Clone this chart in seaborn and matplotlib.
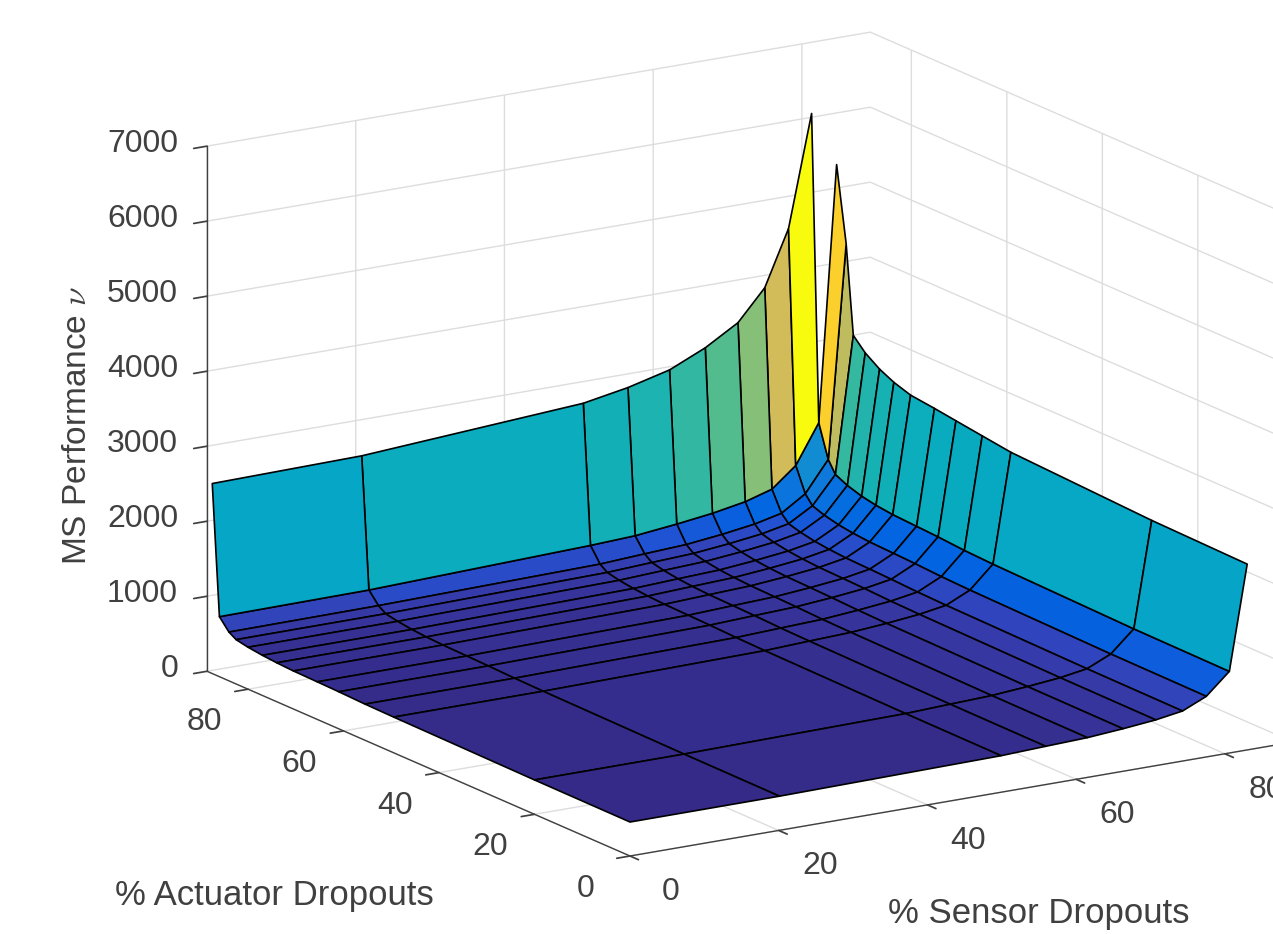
import numpy as np
import seaborn as sns
import matplotlib.pyplot as plt
from mpl_toolkits.mplot3d import proj3d

sensor = [0, 20.1, 49.9, 55.9, 61.5, 66.3, 70.7, 74.3, 77.5, 80.6, 83]
actuator = [0, 20, 49.5, 55.5, 61, 65.5, 70.5, 74, 77, 80, 82.5, 84, 86, 87.5]
ticks_xy = [0, 20, 40, 60, 80]
ticks_z = [0, 1000, 2000, 3000, 4000, 5000, 6000, 7000]

# one row per actuator value, one column per sensor value
perf = [
    [453, 455, 487, 510, 530, 567, 610, 667, 808, 1088, 2477],
    [458, 460, 492, 515, 535, 573, 616, 674, 816, 1099, 2504],
    [476, 478, 511, 536, 557, 595, 641, 700, 848, 1142, 2592],
    [482, 485, 519, 543, 564, 604, 650, 710, 861, 1159, 2644],
    [494, 496, 531, 556, 578, 618, 665, 727, 881, 1186, 2692],
    [501, 503, 538, 564, 586, 627, 674, 737, 893, 1202, 2732],
    [507, 510, 545, 571, 594, 635, 683, 747, 905, 1219, 2770],
    [519, 521, 558, 584, 607, 649, 698, 764, 925, 1246, 2843],
    [535, 537, 575, 602, 625, 669, 720, 787, 953, 1284, 2936],
    [559, 562, 601, 630, 655, 700, 753, 824, 998, 1344, 3069],
    [591, 594, 636, 666, 692, 740, 796, 870, 1054, 1420, 3233],
    [650, 660, 706, 740, 769, 822, 885, 967, 1172, 1578, 4413],
    [800, 813, 900, 927, 987, 1049, 1128, 1234, 1495, 2013, 5413],
    [2533, 2560, 2753, 2860, 3000, 3213, 3473, 3877, 4613, 6093, np.nan],
]

parula = [(0.2081, 0.1663, 0.5292), (0.2123, 0.2138, 0.6270), (0.1959, 0.2645, 0.7279),
          (0.1253, 0.3242, 0.8303), (0.0117, 0.3875, 0.8820), (0.0165, 0.4266, 0.8786),
          (0.0498, 0.4586, 0.8641), (0.0723, 0.4887, 0.8467), (0.0793, 0.5200, 0.8312),
          (0.0641, 0.5570, 0.8240), (0.0343, 0.5966, 0.8199), (0.0239, 0.6287, 0.8038),
          (0.0228, 0.6535, 0.7768), (0.0384, 0.6743, 0.7436), (0.0843, 0.6928, 0.7062),
          (0.1453, 0.7098, 0.6646), (0.2178, 0.7250, 0.6193), (0.3022, 0.7376, 0.5712),
          (0.3953, 0.7459, 0.5244), (0.4871, 0.7491, 0.4840), (0.5709, 0.7485, 0.4494),
          (0.6473, 0.7456, 0.4188), (0.7184, 0.7411, 0.3905), (0.7858, 0.7356, 0.3633),
          (0.8507, 0.7299, 0.3360), (0.9139, 0.7258, 0.3063), (0.9739, 0.7314, 0.2666),
          (0.9990, 0.7653, 0.2164), (0.9880, 0.8066, 0.1794), (0.9697, 0.8481, 0.1475),
          (0.9589, 0.8949, 0.1132), (0.9661, 0.9514, 0.0755), (0.9763, 0.9831, 0.0538)]

sns.set_theme(style='white', rc={
    'font.family': ['Liberation Sans', 'DejaVu Sans'],
    'mathtext.fontset': 'cm',
    'axes.edgecolor': '#404040',
    'axes.linewidth': 1.0,
    'grid.color': '#dddddd',
    'grid.linewidth': 1.0,
    'xtick.color': '#404040',
    'ytick.color': '#404040',
    'text.color': '#404040',
})

cmap = sns.blend_palette(parula, n_colors=256, as_cmap=True)

xs, ys = np.meshgrid(sensor, actuator)
zs = np.array(perf, dtype=float)

# face colour comes from the high corner of each cell
z_face = zs[1:, 1:]
colors = cmap((z_face - np.nanmin(zs)) / (np.nanmax(zs) - np.nanmin(zs)))
colors[-1, -1] = (0, 0, 0, 0)  # the corner cell has no value
edges = np.zeros_like(colors)
edges[..., 3] = 1
edges[-1, -1, 3] = 0

fig = plt.figure(figsize=(12.73, 9.34), dpi=100)
ax = fig.add_axes([0, 0, 1, 1], projection='3d')
ax.set_proj_type('ortho')
ax.view_init(elev=15.9, azim=-122.1)
ax.set_box_aspect((783, 796, 546))

surf = ax.plot_surface(xs, ys, zs, rstride=1, cstride=1, facecolors=colors, shade=False)
surf.set_edgecolor(edges.reshape(-1, 4))
surf.set_linewidth(1.2)

ax.set_xlim(0, 89.2)
ax.set_ylim(0, 88.6)
ax.set_zlim(0, 7000)
ax.set_xticks(ticks_xy)
ax.set_yticks(ticks_xy)
ax.set_zticks(ticks_z)
ax.set_xticklabels([])
ax.set_yticklabels([])
ax.set_zticklabels([])
ax.grid(True)
for axis in [ax.xaxis, ax.yaxis, ax.zaxis]:
    axis.set_pane_color((1, 1, 1, 0))
    axis.pane.set_edgecolor((1, 1, 1, 0))
    axis._axinfo['tick']['inward_factor'] = 0.25
    axis._axinfo['tick']['outward_factor'] = 0


def to_px(x, y, z):
    px, py, _ = proj3d.proj_transform(x, y, z, ax.get_proj())
    return ax.transData.transform((px, py))


# line the axes box up with the left and front corners of the reference
W, H = fig.canvas.get_width_height()
for _ in range(2):
    fig.canvas.draw()
    a = to_px(0, 88.6, 0)
    c = to_px(0, 0, 0)
    pos = ax.get_position(original=True)
    scale = (630 - 207) / (c[0] - a[0])
    side = pos.width * W * scale
    new_c = np.array([pos.x0 * W, pos.y0 * H]) + (c - [pos.x0 * W, pos.y0 * H]) * scale
    left = pos.x0 * W + 630 - new_c[0]
    bottom = pos.y0 * H + (H - 856) - new_c[1]
    ax.set_position([left / W, bottom / H, side / W, side / H])
fig.canvas.draw()


def tick_label(point, dx, dy, text, ha='center'):
    px, py = to_px(*point)
    fig.text((px + dx) / W, (py + dy) / H, text, fontsize=23, ha=ha, va='center', color='#404040')


# mplot3d pad only moves labels along one direction, so they are placed from the ticks
for v in ticks_xy:
    tick_label((v, 0, 0), 41, -36, str(v))
    tick_label((0, v, 0), -44, -33, str(v))
for v in ticks_z:
    tick_label((0, 88.6, v), -29, 2, str(v), ha='right')

fig.text(115 / W, 1 - 896 / H, '% Actuator Dropouts', fontsize=25, va='center')
fig.text(888 / W, 1 - 913 / H, '% Sensor Dropouts', fontsize=25, va='center')
fig.text(78 / W, 1 - 425 / H, r'MS Performance $\nu$', fontsize=24, rotation=90,
         ha='center', va='center')

fig.savefig('out.png', dpi=100)
